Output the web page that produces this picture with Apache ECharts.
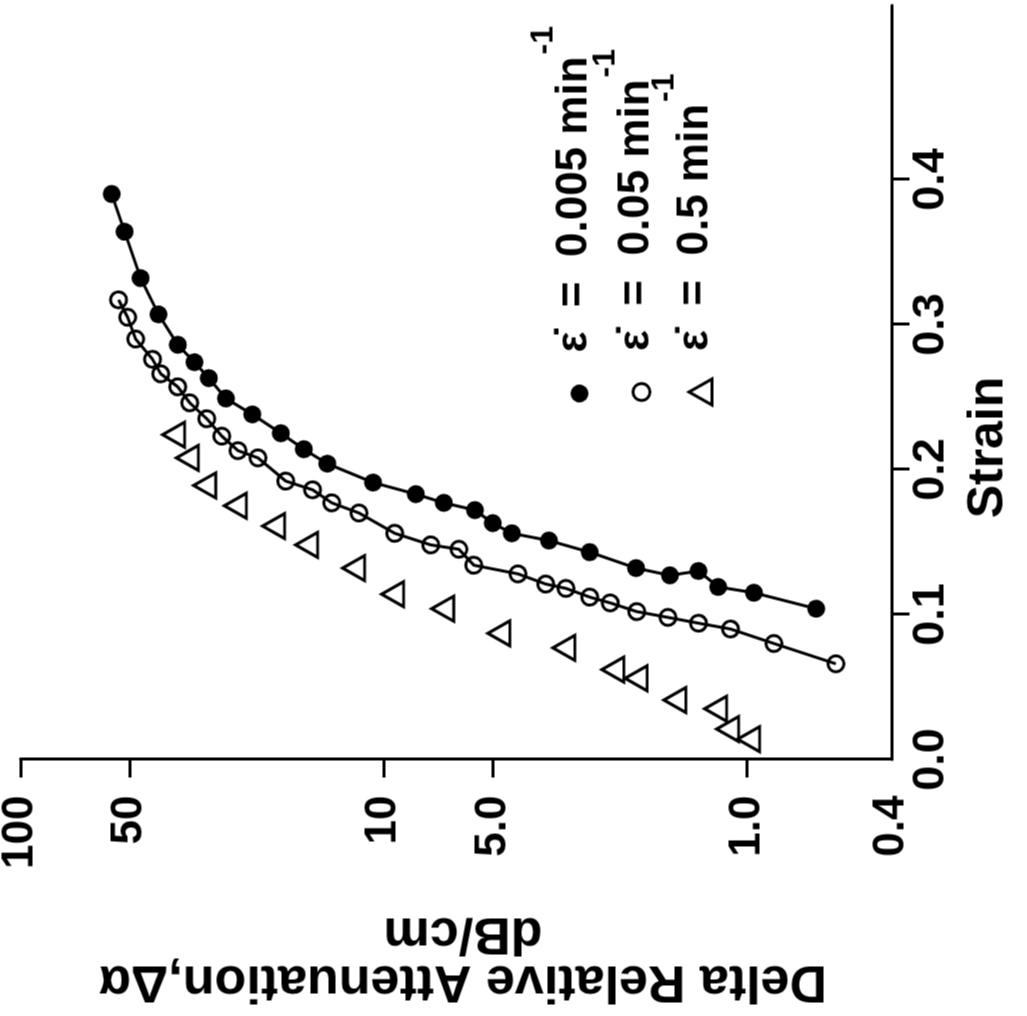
<!DOCTYPE html>
<html>
<head>
<meta charset="utf-8">
<title>Delta relative attenuation vs strain</title>
<script src="https://cdn.jsdelivr.net/npm/echarts@6/dist/echarts.min.js"></script>
<style>
html,body{margin:0;padding:0;width:1027px;height:1016px;overflow:hidden;background:#fff;}
/* the figure is printed a quarter turn round, so the chart is drawn upright and then turned */
#chart{position:absolute;left:5.5px;top:-5.5px;width:1016px;height:1027px;transform:rotate(-90deg);}
</style>
</head>
<body>
<div id="chart"></div>
<script>
// strain rate 0.005 min-1, filled circles
var strainSlow = [0.390, 0.364, 0.332, 0.307, 0.286, 0.274, 0.263, 0.249, 0.238, 0.225, 0.214, 0.204, 0.191,
	0.183, 0.177, 0.172, 0.163, 0.156, 0.151, 0.143, 0.132, 0.127, 0.130, 0.119, 0.115, 0.104];
var attenSlow = [56.1, 51.7, 46.7, 41.7, 36.9, 33.2, 30.3, 27.2, 23.0, 19.2, 16.6, 14.3, 10.7,
	8.16, 6.83, 5.61, 5.01, 4.44, 3.51, 2.71, 2.02, 1.63, 1.36, 1.20, 0.957, 0.645];
// strain rate 0.05 min-1, open circles
var strainMid = [0.317, 0.305, 0.290, 0.276, 0.266, 0.257, 0.246, 0.235, 0.223, 0.213, 0.208, 0.192, 0.186, 0.177, 0.170,
	0.156, 0.148, 0.145, 0.134, 0.128, 0.121, 0.118, 0.112, 0.108, 0.102, 0.098, 0.094, 0.090, 0.080, 0.066];
var attenMid = [53.7, 50.7, 48.2, 43.3, 41.1, 36.9, 34.2, 30.7, 27.9, 25.2, 22.2, 18.6, 15.7, 13.9, 11.7,
	9.33, 7.42, 6.21, 5.65, 4.27, 3.58, 3.15, 2.71, 2.38, 2.01, 1.65, 1.36, 1.11, 0.843, 0.569];
// strain rate 0.5 min-1, open triangles
var strainFast = [0.224, 0.208, 0.189, 0.175, 0.161, 0.148, 0.132, 0.114, 0.104, 0.087, 0.077, 0.062, 0.056, 0.041, 0.035, 0.021, 0.014];
var attenFast = [37.9, 34.7, 31.1, 25.6, 20.1, 16.3, 12.1, 9.45, 6.88, 4.82, 3.19, 2.34, 2.02, 1.58, 1.22, 1.13, 0.99];

var rates = ['0.005', '0.05', '0.5'];
var strainTicks = [0.1, 0.2, 0.3, 0.4];
var strainLabels = [0, 0.1, 0.2, 0.3, 0.4];
var attenTicks = [100, 50, 10, 5, 1];
var attenLabelValues = [100, 50, 10, 5, 1, 0.4];
var attenLabelText = ['100', '50', '10', '5.0', '1.0', '0.4'];

var FONT = '"Liberation Sans", Arial, sans-serif';

function pairs(xs, ys){
	var out = [];
	for(var i=0;i<xs.length;i++){
		out.push([xs[i], ys[i]]);
	}
	return out;
}

function seriesName(i){
	return 'ε̇ = ' + rates[i] + ' min-1';
}

// one legend per row so each marker sits where the printed one does
function legendRow(i, icon, w, h, style, rowMid){
	var left = 623 - w/2;
	return {
		data: [{name: seriesName(i), icon: icon, itemStyle: style}],
		orient: 'vertical',
		left: left,
		top: rowMid - 52,
		padding: 0,
		itemWidth: w,
		itemHeight: h,
		selectedMode: false,
		formatter: function(){
			return '{m|ε̇  =  ' + rates[i] + ' min}{s|-1}';
		},
		textStyle: {
			rich: {
				m: {fontSize: 44, fontWeight: 'bold', fontFamily: FONT, color: '#000', lineHeight: 44,
					padding: [25, 0, 35, 664 - (left + w + 5)]},
				// box is as tall as the line, text sits at its top: that lifts the exponent
				s: {fontSize: 32, fontWeight: 'bold', fontFamily: FONT, color: '#000', lineHeight: 32,
					padding: [0, 0, 72, 2]}
			}
		}
	};
}

var myChart = echarts.init(document.getElementById('chart'));
var opts = {
	animation: false,
	backgroundColor: '#fff',
	grid: {left: 257, right: 5, top: 20, bottom: 136, containLabel: false, outerBoundsMode: 'none'},
	legend: [
		legendRow(0, 'circle', 18, 18, {color: '#000', borderWidth: 0, opacity: 1}, 579),
		legendRow(1, 'circle', 17, 17, {color: '#fff', borderColor: '#000', borderWidth: 3, opacity: 1}, 641),
		legendRow(2, 'triangle', 26, 23, {color: '#fff', borderColor: '#000', borderWidth: 3, opacity: 1}, 700)
	],
	xAxis: {
		type: 'value',
		min: 0,
		max: 0.52,
		name: 'Strain',
		nameLocation: 'middle',
		nameGap: 72,
		nameTextStyle: {fontSize: 50, fontWeight: 'bold', fontFamily: FONT, color: '#000', padding: [0, 130, 0, 0]},
		axisLine: {show: true, onZero: false, lineStyle: {color: '#000', width: 3}},
		axisTick: {show: true, customValues: strainTicks, length: 18, lineStyle: {color: '#000', width: 3}},
		axisLabel: {
			customValues: strainLabels,
			margin: 17,
			fontSize: 45,
			fontWeight: 'bold',
			fontFamily: FONT,
			color: '#000',
			formatter: function(v){ return v.toFixed(1); }
		},
		splitLine: {show: false}
	},
	yAxis: {
		type: 'log',
		logBase: 10,
		min: 0.4,
		max: 100,
		name: 'Delta Relative Attenuation,Δα\ndB/cm',
		nameLocation: 'middle',
		nameRotate: 90,
		nameGap: 149,
		nameTextStyle: {fontSize: 52, lineHeight: 48, fontWeight: 'bold', fontFamily: FONT, color: '#000', padding: [0, 14, 0, 0]},
		axisLine: {show: true, onZero: false, lineStyle: {color: '#000', width: 3}},
		axisTick: {show: true, customValues: attenTicks, length: 18, lineStyle: {color: '#000', width: 3}},
		axisLabel: {
			customValues: attenLabelValues,
			margin: 36,
			fontSize: 44,
			fontWeight: 'bold',
			fontFamily: FONT,
			color: '#000',
			formatter: function(v){
				for(var i=0;i<attenLabelValues.length;i++){
					if(Math.abs(v - attenLabelValues[i]) < attenLabelValues[i]*1e-6){
						return attenLabelText[i];
					}
				}
				return '';
			}
		},
		splitLine: {show: false},
		minorTick: {show: false}
	},
	series: [
		{
			name: seriesName(0),
			type: 'line',
			data: pairs(strainSlow, attenSlow),
			symbol: 'circle',
			symbolSize: 18,
			itemStyle: {color: '#000', opacity: 1},
			lineStyle: {color: '#000', width: 3},
			emphasis: {disabled: true}
		},
		{
			name: seriesName(1),
			type: 'line',
			data: pairs(strainMid, attenMid),
			symbol: 'circle',
			symbolSize: 16,
			itemStyle: {color: 'rgba(0,0,0,0)', borderColor: '#000', borderWidth: 3, opacity: 1},
			lineStyle: {color: '#000', width: 3},
			emphasis: {disabled: true}
		},
		{
			name: seriesName(2),
			type: 'scatter',
			data: pairs(strainFast, attenFast),
			symbol: 'triangle',
			symbolSize: [25, 22],
			itemStyle: {color: 'rgba(0,0,0,0)', borderColor: '#000', borderWidth: 3, opacity: 1},
			emphasis: {disabled: true}
		}
	]
};
myChart.setOption(opts);
window.onresize = myChart.resize;
</script>
</body>
</html>
